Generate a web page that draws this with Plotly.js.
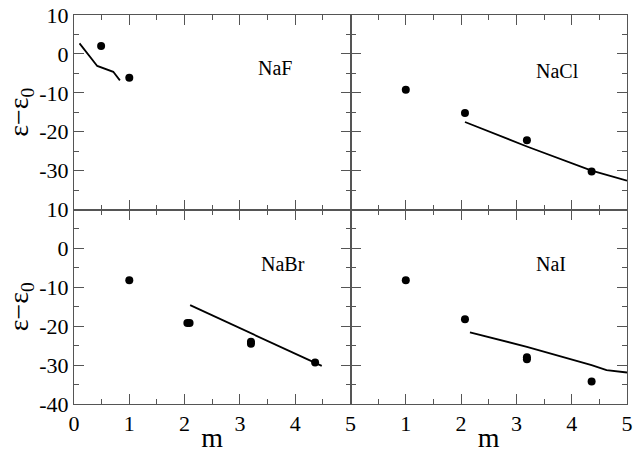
<!DOCTYPE html>
<html><head><meta charset="utf-8">
<script src="https://cdn.plot.ly/plotly-3.0.1.min.js"></script>
<style>body{margin:0;background:#fff}#g{width:639px;height:453px}</style>
</head><body><div id="g"></div>
<script>
// NaF
const nafLineX = [0.10, 0.42, 0.71, 0.83];
const nafLineY = [2.7, -3.1, -4.6, -6.8];
const nafPtsX = [0.49, 1.0];
const nafPtsY = [2.0, -6.1];
// NaCl
const naclLineX = [2.07, 3.19, 4.36, 5.0];
const naclLineY = [-17.5, -23.8, -30.0, -32.6];
const naclPtsX = [1.0, 2.07, 3.19, 4.36];
const naclPtsY = [-9.2, -15.2, -22.2, -30.2];
// NaBr
const nabrLineX = [2.10, 4.48];
const nabrLineY = [-14.6, -30.2];
const nabrPtsX = [1.0, 2.05, 2.09, 3.2, 3.2, 4.36];
const nabrPtsY = [-8.2, -19.2, -19.2, -24.0, -24.5, -29.3];
// NaI
const naiLineX = [2.16, 3.19, 4.36, 4.63, 5.0];
const naiLineY = [-21.6, -25.3, -30.0, -31.3, -31.9];
const naiPtsX = [1.0, 2.07, 3.19, 3.19, 4.36];
const naiPtsY = [-8.2, -18.2, -28.0, -28.5, -34.2];

const labels = ["NaF", "NaCl", "NaBr", "NaI"];
const labelX = [3.63, 3.75, 3.78, 3.62];
const labelY = [-3.7, -4.4, -3.9, -3.9];

const xTickValsLeft = [0, 1, 2, 3, 4, 5];
const xTickTextLeft = ["0", "1", "2", "3", "4", "5"];
const xTickValsRight = [1, 2, 3, 4, 5];
const xTickTextRight = ["1", "2", "3", "4", "5"];
const yTickValsTop = [10, 0, -10, -20, -30];
const yTickTextTop = ["10", "0", "-10", "-20", "-30"];
const yTickValsBottom = [10, 0, -10, -20, -30, -40];
const yTickTextBottom = ["10", "0", "-10", "-20", "-30", "-40"];

const font = "'Liberation Serif', 'Times New Roman', serif";
const lineStyle = {color: "#000", width: 1.8};
const markerStyle = {color: "#000", size: 8};

function pair(lx, ly, px, py, xa, ya) {
  return [
    {x: lx, y: ly, xaxis: xa, yaxis: ya, mode: "lines", line: lineStyle, hoverinfo: "skip"},
    {x: px, y: py, xaxis: xa, yaxis: ya, mode: "markers", marker: markerStyle, hoverinfo: "skip"}
  ];
}
const data = [].concat(
  pair(nafLineX, nafLineY, nafPtsX, nafPtsY, "x3", "y3"),
  pair(naclLineX, naclLineY, naclPtsX, naclPtsY, "x4", "y4"),
  pair(nabrLineX, nabrLineY, nabrPtsX, nabrPtsY, "x", "y"),
  pair(naiLineX, naiLineY, naiPtsX, naiPtsY, "x2", "y2")
);

function xax(domain, anchor, vals, text, show) {
  return {domain: domain, anchor: anchor, range: [0, 5], showgrid: false, zeroline: false,
    showline: true, linecolor: "#555", linewidth: 1, mirror: "ticks",
    ticks: "inside", ticklen: 10, tickcolor: "#555", tickwidth: 1,
    tickvals: vals, ticktext: text, showticklabels: show,
    tickfont: {family: font, size: 22, color: "#000"},
    minor: {ticks: "inside", ticklen: 5, dtick: 0.5, tick0: 0, tickcolor: "#555", tickwidth: 1},
    fixedrange: true};
}
function yax(domain, anchor, vals, text, show, title) {
  const a = {domain: domain, anchor: anchor, range: [-40, 10], showgrid: false, zeroline: false,
    showline: true, linecolor: "#555", linewidth: 1, mirror: "ticks",
    ticks: "inside", ticklen: 10, tickcolor: "#555", tickwidth: 1,
    tickvals: vals, ticktext: text, showticklabels: show,
    tickfont: {family: font, size: 22, color: "#000"},
    minor: {ticks: "inside", ticklen: 5, dtick: 5, tick0: 0, tickcolor: "#555", tickwidth: 1},
    fixedrange: true};
  if (title) a.title = {text: title, font: {family: font, size: 28, color: "#000"}, standoff: 2};
  return a;
}
const ytitle = "ε−ε<sub>0</sub>";
const layout = {
  width: 639, height: 453,
  margin: {l: 74, r: 12, t: 15, b: 49},
  paper_bgcolor: "#fff", plot_bgcolor: "#fff",
  showlegend: false,
  font: {family: font, color: "#000"},
  xaxis: Object.assign(xax([0, 0.5], "y", xTickValsLeft, xTickTextLeft, true), {title: {text: "m", font: {family: font, size: 28, color: "#000"}, standoff: 0}}),
  yaxis: yax([0, 0.5], "x", yTickValsBottom, yTickTextBottom, true, ytitle),
  xaxis2: Object.assign(xax([0.5, 1], "y2", xTickValsRight, xTickTextRight, true), {title: {text: "m", font: {family: font, size: 28, color: "#000"}, standoff: 0}}),
  yaxis2: yax([0, 0.5], "x2", yTickValsBottom, yTickTextBottom, false, null),
  xaxis3: xax([0, 0.5], "y3", xTickValsLeft, xTickTextLeft, false),
  yaxis3: yax([0.5, 1], "x3", yTickValsTop, yTickTextTop, true, ytitle),
  xaxis4: xax([0.5, 1], "y4", xTickValsLeft, xTickTextLeft, false),
  yaxis4: yax([0.5, 1], "x4", yTickValsTop, yTickTextTop, false, null),
  annotations: labels.map((t, i) => ({
    text: t, x: labelX[i], y: labelY[i],
    xref: ["x3", "x4", "x", "x2"][i], yref: ["y3", "y4", "y", "y2"][i],
    showarrow: false, font: {family: font, size: 20, color: "#000"}
  }))
};
Plotly.newPlot("g", data, layout, {staticPlot: true});
</script></body></html>
